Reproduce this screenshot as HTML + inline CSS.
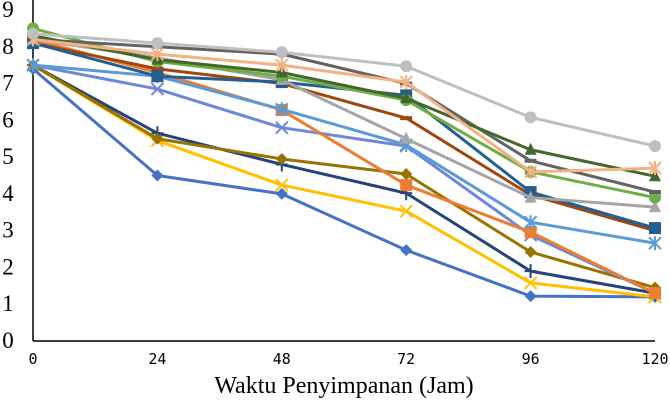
<!DOCTYPE html>
<html><head><meta charset="utf-8"><style>
body{margin:0;background:#fff}
svg{display:block}
.yl{font-family:"Liberation Serif",serif;font-size:23px;fill:#000}
.xl{font-family:"DejaVu Sans Mono","Liberation Mono",monospace;font-size:15px;fill:#000}
.tt{font-family:"Liberation Serif",serif;font-size:24px;fill:#000}
</style></head><body>
<svg id="chart" width="670" height="402" viewBox="0 0 670 402" xmlns="http://www.w3.org/2000/svg">
<g id="axes"></g>
<g id="series"></g>
<text class="tt" x="344" y="393" text-anchor="middle">Waktu Penyimpanan (Jam)</text>
</svg>
<script>
const hours = [0, 24, 48, 72, 96, 120];
const yTicks = [0,1,2,3,4,5,6,7,8,9];
const sGrayCircle = [8.35, 8.1, 7.85, 7.47, 6.08, 5.3];
const sOrangeStar = [8.2, 7.8, 7.5, 7.04, 4.6, 4.7];
const sDarkGreenTri = [8.3, 7.65, 7.3, 6.6, 5.2, 4.48];
const sDarkGray = [8.2, 8.0, 7.8, 7.0, 4.9, 4.05];
const sGreenCircle = [8.5, 7.6, 7.2, 6.55, 4.6, 3.9];
const sGrayTri = [8.2, 7.7, 7.1, 5.5, 3.9, 3.64];
const sBlueSquare = [8.1, 7.2, 7.04, 6.68, 4.05, 3.07];
const sBrown = [8.1, 7.4, 7.0, 6.06, 3.97, 3.0];
const sLightBlueStar = [7.5, 7.2, 6.3, 5.33, 3.23, 2.66];
const sOrangeSquare = [8.2, 7.3, 6.28, 4.24, 2.96, 1.3];
const sLavenderX = [7.5, 6.85, 5.8, 5.3, 2.88, 1.3];
const sOliveDiamond = [7.5, 5.5, 4.95, 4.54, 2.42, 1.45];
const sNavyPlus = [7.5, 5.65, 4.8, 4.02, 1.9, 1.3];
const sYellowX = [7.5, 5.45, 4.24, 3.53, 1.58, 1.2];
const sBlueDiamond = [7.4, 4.5, 4.0, 2.47, 1.22, 1.2];

const NS="http://www.w3.org/2000/svg";
const X0=33,X1=655,Y0=341,YT=10;
const xs=h=>X0+(h-0)/(120-0)*(X1-X0);
const ys=v=>Y0-(v/9)*(Y0-YT);
function mk(tag,attrs,parent){const e=document.createElementNS(NS,tag);for(const k in attrs)e.setAttribute(k,attrs[k]);parent.appendChild(e);return e;}
const axes=document.getElementById('axes');
let l=mk('line',{x1:X0,y1:0,x2:X0,y2:Y0,stroke:'#000','stroke-width':1.5},axes);


l=mk('line',{x1:X0,y1:Y0,x2:X1,y2:Y0,stroke:'#000','stroke-width':1.5},axes);


yTicks.forEach(v=>{const t=mk('text',{x:8,y:ys(v)+7,'text-anchor':'middle',class:'yl'},axes);t.textContent=v;

});
hours.forEach(h=>{const t=mk('text',{x:xs(h),y:Y0+23,'text-anchor':'middle',class:'xl'},axes);t.textContent=h;

});

const defs=[
 [sBlueDiamond,'#4472C4','diamond','blue-diamond'],
 [sYellowX,'#FFC000','x','yellow-x'],
 [sNavyPlus,'#264478','plus','navy-plus'],
 [sOliveDiamond,'#997300','diamond','olive-diamond'],
 [sLavenderX,'#6F87D8','x','lavender-x'],
 [sOrangeSquare,'#ED7D31','square','orange-square'],
 [sLightBlueStar,'#5B9BD5','star','light-blue-star'],
 [sBrown,'#9E480E','dash','brown'],
 [sBlueSquare,'#255E91','square','blue-square'],
 [sGrayTri,'#A5A5A5','tri','gray-triangle'],
 [sGreenCircle,'#70AD47','circle','green-circle'],
 [sDarkGray,'#636363','dash','dark-gray'],
 [sDarkGreenTri,'#43682B','tri','dark-green-triangle'],
 [sOrangeStar,'#F4B183','star','orange-star'],
 [sGrayCircle,'#BFBFBF','circle','gray-circle']
];
const sg=document.getElementById('series');
defs.forEach(([vals,c,m,name])=>{
 const g=mk('g',{},sg);
 
 
 const p=mk('polyline',{points:vals.map((v,i)=>xs(hours[i])+','+ys(v)).join(' '),fill:'none',stroke:c,'stroke-width':3,'stroke-linejoin':'round'},g);
 
 
 vals.forEach((v,i)=>{
  const x=xs(hours[i]),y=ys(v);let e;
  if(m==='circle')e=mk('circle',{cx:x,cy:y,r:6,fill:c},g);
  else if(m==='square')e=mk('rect',{x:x-6,y:y-6,width:12,height:12,fill:c},g);
  else if(m==='diamond')e=mk('polygon',{points:`${x},${y-6} ${x+6},${y} ${x},${y+6} ${x-6},${y}`,fill:c},g);
  else if(m==='tri')e=mk('polygon',{points:`${x},${y-7} ${x+6},${y+5} ${x-6},${y+5}`,fill:c},g);
  else if(m==='x')e=mk('path',{d:`M${x-6} ${y-6}L${x+6} ${y+6}M${x+6} ${y-6}L${x-6} ${y+6}`,stroke:c,'stroke-width':2},g);
  else if(m==='plus')e=mk('path',{d:`M${x} ${y-7}V${y+7}M${x-6} ${y}H${x+6}`,stroke:c,'stroke-width':2},g);
  else if(m==='star')e=mk('path',{d:`M${x-6} ${y-6}L${x+6} ${y+6}M${x+6} ${y-6}L${x-6} ${y+6}M${x} ${y-7}V${y+7}`,stroke:c,'stroke-width':2},g);
  else e=mk('rect',{x:x-6,y:y-2,width:12,height:4,fill:c},g);
  
  
 });
});
</script>
</body></html>
